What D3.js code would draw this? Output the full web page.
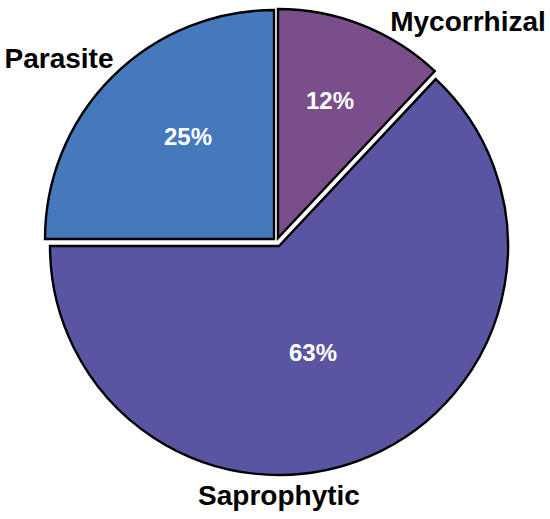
<!DOCTYPE html>
<html>
<head>
<meta charset="utf-8">
<script src="https://cdn.jsdelivr.net/npm/d3@7"></script>
<style>
  html, body { margin: 0; padding: 0; background: #ffffff; }
  svg { display: block; }
</style>
</head>
<body>
<svg id="chart" width="550" height="519"></svg>
<script>
// ---- data ----
const categories = ["Mycorrhizal", "Saprophytic", "Parasite"];
const values = [12, 63, 25];
const percentLabels = ["12%", "63%", "25%"];

// ---- style / layout ----
const colors = ["#7a4e8b", "#5a55a3", "#447abb"];
const explode = [[-1, -8], [0, 0], [-5, -7]];            // slice offsets
const pctOffset = [[52, -137], [34, 107], [-86, -102]];   // percent label offsets from slice corner
const catPos = [[468, 31], [279, 505], [59, 68]];         // category label anchors

const width = 550, height = 519;
const cx = 279, cy = 246, radius = 229;

const svg = d3.select("#chart");
const g = svg.append("g").attr("transform", `translate(${cx},${cy})`);

const pie = d3.pie().sort(null).value(d => d.value);
const arc = d3.arc().innerRadius(0).outerRadius(radius);

const data = categories.map((c, i) => ({ name: c, value: values[i], pct: percentLabels[i], i }));
const arcs = pie(data);

const slice = g.selectAll("g.slice").data(arcs).join("g")
  .attr("class", "slice")
  .attr("transform", d => `translate(${explode[d.data.i][0]},${explode[d.data.i][1]})`);

slice.append("path")
  .attr("d", arc)
  .attr("fill", d => colors[d.data.i])
  .attr("stroke", "#000")
  .attr("stroke-width", 2.4)
  .attr("stroke-linejoin", "miter");

slice.append("text")
  .attr("x", d => pctOffset[d.data.i][0])
  .attr("y", d => pctOffset[d.data.i][1])
  .attr("text-anchor", "middle")
  .attr("dy", "0.35em")
  .attr("fill", "#ffffff")
  .style("font-family", "'Liberation Sans', Arial, sans-serif")
  .style("font-weight", "bold")
  .style("font-size", "24px")
  .text(d => d.data.pct);

svg.selectAll("text.cat").data(data).join("text")
  .attr("class", "cat")
  .attr("x", d => catPos[d.i][0])
  .attr("y", d => catPos[d.i][1])
  .attr("text-anchor", "middle")
  .attr("fill", "#000")
  .style("font-family", "'Liberation Sans', Arial, sans-serif")
  .style("font-weight", "bold")
  .style("font-size", "28px")
  .text(d => d.name);
</script>
</body>
</html>
